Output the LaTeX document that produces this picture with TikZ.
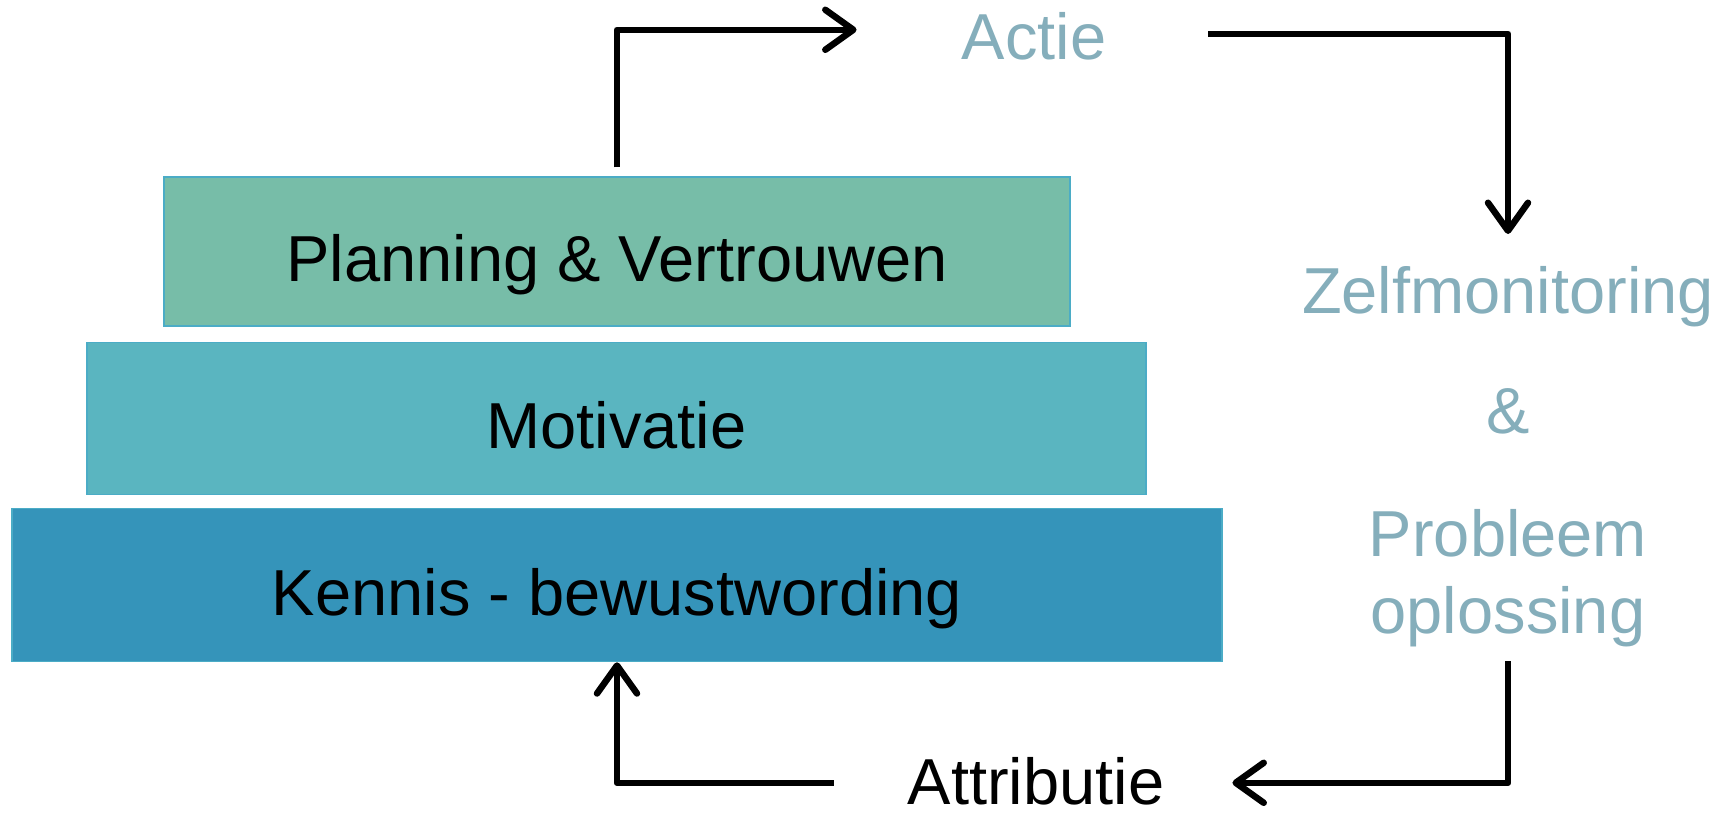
\documentclass[tikz,border=0pt]{standalone}
\usepackage{fontspec}
\setmainfont{Liberation Sans}
\usetikzlibrary{arrows.meta}
\definecolor{planfill}{HTML}{77BDA8}
\definecolor{motivfill}{HTML}{5AB5C0}
\definecolor{kennisfill}{HTML}{3594BA}
\definecolor{boxline}{HTML}{4BACC6}
\definecolor{phasetext}{HTML}{85AEBB}

\begin{document}
\begin{tikzpicture}[x=1pt, y=-1pt,
  every node/.style={font=\fontsize{65}{77}\selectfont},
  layer/.style={draw=boxline, line width=1.5pt, inner sep=0pt, text height=60pt, text depth=0pt},
  phase/.style={text=phasetext, inner sep=0pt, align=center},
  flow/.style={line width=6.5pt, line join=round, -{Straight Barb[length=28pt, width=40pt, round]}}]
  \useasboundingbox (0, 0) rectangle (1734, 815);
  % the three layers
  \node [layer, fill=planfill, minimum width=906pt, minimum height=149pt] (plan) at (617, 251.5) {Planning \& Vertrouwen};
  \node [layer, fill=motivfill, minimum width=1059pt, minimum height=152pt] (motiv) at (616.5, 418.5) {Motivatie};
  \node [layer, fill=kennisfill, minimum width=1210pt, minimum height=153pt] (kennis) at (617, 585) {Kennis - bewustwording};
  % the cycle
  \node [phase, anchor=base] (actie) at (1034, 59) {Actie};
  \node [phase, anchor=north] (zelf) at (1508, 266) {Zelfmonitoring\\[43pt]\&\\[46pt]Probleem\\oplossing};
  \node [inner sep=0pt, anchor=base] (attr) at (1036, 804) {Attributie};
  \draw [flow, shorten <=9pt, shorten >=105pt] (plan.north) |- ([yshift=6pt]actie.west);
  \draw [flow, shorten <=102pt, shorten >=32pt] ([yshift=2pt]actie.east) -| (zelf.north);
  \draw [flow, shorten <=14pt, shorten >=68pt] (zelf.south) |- ([yshift=-2pt]attr.east);
  \draw [flow, shorten <=74pt] ([yshift=-2pt]attr.west) -| (kennis.south);
\end{tikzpicture}
\end{document}
